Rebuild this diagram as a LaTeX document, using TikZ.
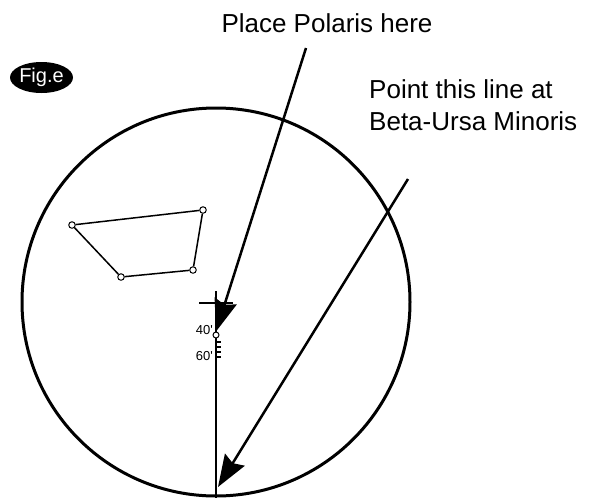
\documentclass[tikz,border=0pt]{standalone}
\usepackage{fontspec}
\setmainfont{Liberation Sans}
\usetikzlibrary{arrows.meta,shapes.geometric}

\begin{document}
\begin{tikzpicture}[
    x=1pt, y=-1pt,
    note/.style={font=\fontsize{26}{32}\selectfont, inner sep=0pt},
    pointer/.style={-{Stealth[length=32pt,width=23pt,inset=4pt]}, line width=2.5pt},
    starmark/.style={circle, draw, fill=white, line width=1pt, minimum size=6.5pt, inner sep=0pt},
    marktext/.style={font=\fontsize{13}{15}\selectfont, inner sep=0pt},
]
\useasboundingbox (0,0) rectangle (597,499);

% figure tag and dial
\node[ellipse, fill=black, text=white, minimum width=63pt, minimum height=31pt, inner sep=0pt, font=\fontsize{20}{24}\selectfont] (tag) at (41.5,77.5) {Fig.e};
\node[circle, draw, line width=3pt, minimum size=388pt, inner sep=0pt] (dial) at (216,302) {};

% constellation
\node[starmark] (s1) at (72,225) {};
\node[starmark] (s2) at (203,210) {};
\node[starmark] (s3) at (193,270) {};
\node[starmark] (s4) at (121,277) {};
\draw[line width=1.5pt] (s1) -- (s2) -- (s3) -- (s4) -- (s1);

% reticle scale
\coordinate (hub) at (216,303);
\draw[line width=1.4pt] (216,291) -- (dial.south);
\draw[line width=1.4pt] (199,303) -- (233,303);
\foreach \y in {342,347,352,357}
    \draw[line width=1.2pt] (216,\y) -- ++(5,0);
\node[starmark, minimum size=6pt] (pivot) at (216,335) {};
\node[marktext, anchor=east] (m40) at (213,330) {40\textquotesingle};
\node[marktext, anchor=east] (m60) at (213,356) {60\textquotesingle};

% labels and pointers
\node[note, anchor=base] (polaris) at (327,32) {Place Polaris here};
\node[note, anchor=base west, align=left] (beta) at (369,130) {Point this line at\\Beta-Ursa Minoris};
\coordinate (polstart) at (306,48);
\coordinate (betastart) at (408,179);
\coordinate (betatip) at (218,487);
\draw[pointer] (polstart) -- (pivot.north);
\draw[pointer] (betastart) -- (betatip);
\end{tikzpicture}
\end{document}
